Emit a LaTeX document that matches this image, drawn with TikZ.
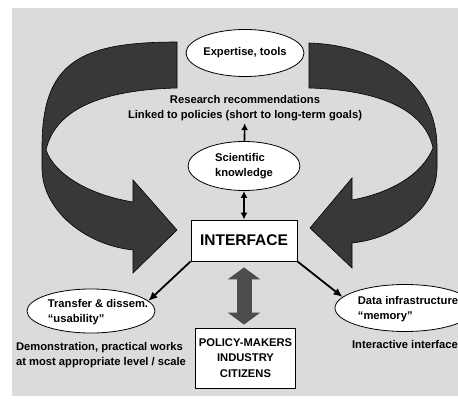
\documentclass[tikz,border=0pt]{standalone}
\usepackage{fontspec}
\setmainfont{Liberation Sans}
\usetikzlibrary{shapes.geometric,arrows.meta}

\begin{document}
\begin{tikzpicture}[x=1pt, y=-1pt,
  every node/.style={font=\bfseries\fontsize{11.2}{15.5}\selectfont},
  bubble/.style={draw, ellipse, fill=white, line width=0.8pt, inner sep=0pt},
  box/.style={draw, rectangle, fill=white, line width=0.8pt},
  link/.style={line width=1.8pt, -{Latex[length=9pt,width=8pt]}},
  swirl/.style={fill=black!78, draw=black, line width=0.6pt}]
\useasboundingbox (0,0) rectangle (458,401);
% Background
\fill[black!14] (12,8) rectangle (458,396);

% Curved arrows
\path[swirl] (177,42) .. controls (80,42) and (42,62) .. (42,147) -- (42,168)
  .. controls (42,210) and (85,245) .. (133,250) -- (133,273) -- (177,230) -- (133,180) -- (133,202)
  .. controls (90,195) and (55,175) .. (46,150)
  .. controls (55,110) and (100,90) .. (177,88) -- cycle;
\path[swirl] (309,43) .. controls (375,45) and (437,80) .. (437,147) -- (437,168)
  .. controls (437,205) and (400,238) .. (352,243) -- (352,268) -- (310,228) -- (352,178) -- (352,200)
  .. controls (390,193) and (422,175) .. (433,148)
  .. controls (425,110) and (380,90) .. (309,88) -- cycle;

% Top
\node[bubble, minimum width=115pt, minimum height=47pt] (tools) at (245,53) {Expertise, tools};
\node[align=center, inner sep=2pt] (research) at (245,108) {Research recommendations\\Linked to policies (short to long-term goals)};
\node[bubble, minimum width=112pt, minimum height=49pt, align=left] (sci) at (244,166) {Scientific\\knowledge};
\draw[-{Latex[length=7pt,width=7pt]}, line width=1.6pt] (sci) -- (research);

% Interface
\node[box, minimum width=106pt, minimum height=41pt] (iface) at (244,240.5) {\fontsize{15.5}{16}\selectfont INTERFACE};
\draw[{Latex[length=7pt,width=7pt]}-{Latex[length=7pt,width=7pt]}, line width=1.6pt] (sci) -- (iface);

% Left and right
\node[bubble, minimum width=128pt, minimum height=44pt] (transfer) at (91,311) {};
\node[align=left] (transferTxt) at (98,312) {Transfer \& dissem.\\“usability”};
\node[align=left] (demo) at (101,355) {Demonstration, practical works\\at most appropriate level / scale};
\node[bubble, minimum width=140pt, minimum height=47pt] (data) at (405,308) {};
\node[align=left] (dataTxt) at (408,309) {Data infrastructure\\“memory”};
\node (interactive) at (405,344) {Interactive interface};

\draw[link] (iface.south west) -- (transfer.10);
\draw[link] (iface.south east) -- (data.170);

% Bottom
\node[box, minimum width=99pt, minimum height=60pt, align=center] (policy) at (245.5,358) {POLICY-MAKERS\\INDUSTRY\\CITIZENS};
\draw[line width=15pt, draw=black!70, {Triangle[length=12pt,width=32pt]}-{Triangle[length=12pt,width=32pt]}, shorten <=6pt, shorten >=3pt] (iface.south) -- (iface.south |- policy.north);
\end{tikzpicture}
\end{document}
